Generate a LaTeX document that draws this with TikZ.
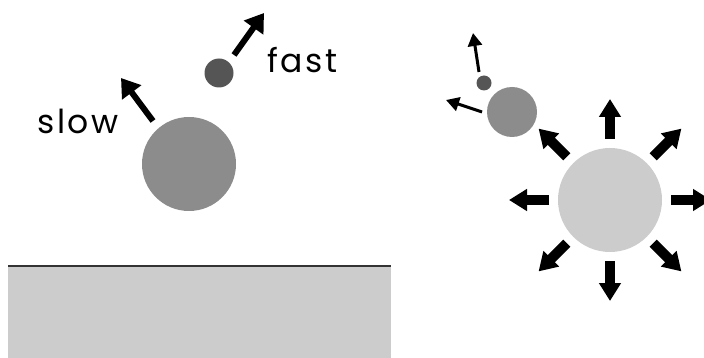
\documentclass[tikz,border=0pt]{standalone}
\usepackage{fontspec}
\newfontfamily\labelfont[LetterSpace=8]{Poppins}
\usetikzlibrary{arrows.meta, positioning}
\definecolor{darkball}{HTML}{555555}
\definecolor{midball}{HTML}{8C8C8C}
\definecolor{lightball}{HTML}{CCCCCC}
\tikzset{>=Triangle}

\begin{document}
\begin{tikzpicture}[x=1pt, y=-1pt,
    ball/.style={circle, inner sep=0pt, minimum size=#1, draw=none},
    speed/.style={line width=6pt, -{Triangle[length=18pt, width=23pt]}},
    kick/.style={line width=3pt, -{Triangle[length=13pt, width=14pt]}},
    burst/.style={line width=10pt, -{Triangle[length=18pt, width=21pt]}},
    tag/.style={font=\labelfont\fontsize{33}{33}\selectfont, inner sep=0pt, anchor=base west}]
    \useasboundingbox (0,0) rectangle (704,358);

    % ground
    \fill[lightball] (8,266) rectangle (391,358);
    \draw[line width=2pt, black!80] (8,266) -- (391,266);

    % left: two balls flying off
    \node[ball=94pt, fill=midball] (slowball) at (189,164) {};
    \node[ball=29pt, fill=darkball] (fastball) at (219,73) {};
    \coordinate (slowfrom) at (153,121);
    \coordinate (slowto) at (121,78);
    \coordinate (fastfrom) at (234,55);
    \coordinate (fastto) at (264,13);
    \draw[speed] (slowfrom) -- (slowto);
    \draw[speed] (fastfrom) -- (fastto);
    \node[tag] (slowtag) at (37,134) {slow};
    \node[tag] (fasttag) at (267,73) {fast};

    % right: burst
    \node[ball=104pt, fill=lightball] (star) at (610,200) {};
    \node[ball=50pt, fill=midball] (midchip) at (512,112) {};
    \node[ball=15pt, fill=darkball] (tinychip) at (484,83) {};
    \coordinate (tinyfrom) at (479,72);
    \coordinate (tinyto) at (473,33);
    \coordinate (midfrom) at (482,112);
    \coordinate (midto) at (446,100);
    \draw[kick] (tinyfrom) -- (tinyto);
    \draw[kick] (midfrom) -- (midto);

    \foreach \a [count=\i] in {0,45,...,315} {
        \path (star.center) ++(\a:61) coordinate (bs\i) ++(\a:40) coordinate (be\i);
        \draw[burst] (bs\i) -- (be\i);
    }
\end{tikzpicture}
\end{document}
